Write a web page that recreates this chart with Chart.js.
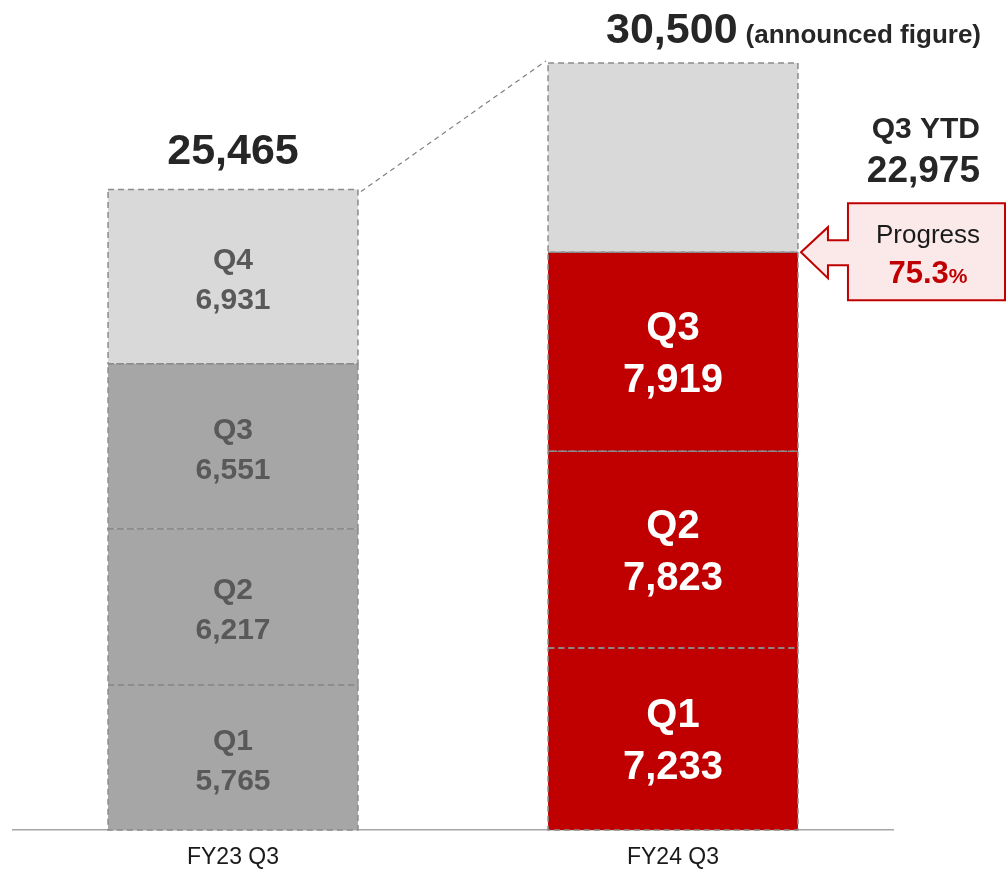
<!DOCTYPE html>
<html>
<head>
<meta charset="utf-8">
<script src="https://cdn.jsdelivr.net/npm/chart.js@4"></script>
<style>
  html, body { margin: 0; padding: 0; background: #fff; }
  #wrap { width: 1008px; height: 872px; }
</style>
</head>
<body>
<div id="wrap"><canvas id="salesChart" width="1008" height="872"></canvas></div>
<script>
// === DATA ===
const categories = ["FY23 Q3", "FY24 Q3"];
const quarters = ["Q1", "Q2", "Q3", "Q4"];
const q1Values = [5765, 7233];
const q2Values = [6217, 7823];
const q3Values = [6551, 7919];
const q4Values = [6931, 7525]; // FY24: remaining to announced figure
const barTotals = [25465, 30500];
const ytdTotal = 22975;
const progressPct = 75.3;

// === STYLE ===
const FONT = "Liberation Sans, Arimo, Arial, sans-serif";
const pastColors = ["#a6a6a6", "#a6a6a6", "#a6a6a6", "#d9d9d9"];
const currColors = ["#c00000", "#c00000", "#c00000", "#d9d9d9"];
const seriesValues = [q1Values, q2Values, q3Values, q4Values];

const fmt = (v) => v.toLocaleString("en-US");

const datasets = quarters.map((q, i) => ({
  label: q,
  data: seriesValues[i],
  backgroundColor: [pastColors[i], currColors[i]],
  borderWidth: 0,
  barPercentage: 0.568,
  categoryPercentage: 1,
}));

// === OVERLAY: dashed outlines, labels, callout ===
const overlay = {
  id: "overlay",
  afterDatasetsDraw(chart) {
    const ctx = chart.ctx;
    const metas = chart.data.datasets.map((d, i) => chart.getDatasetMeta(i));

    // dashed segment outlines
    ctx.save();
    ctx.strokeStyle = "#8c8c8c";
    ctx.lineWidth = 1.5;
    ctx.setLineDash([6, 4]);
    metas.forEach((m) => {
      m.data.forEach((el) => {
        const l = el.x - el.width / 2;
        ctx.strokeRect(l, el.y, el.width, el.base - el.y);
      });
    });
    ctx.restore();

    // connector between bar tops
    const topL = metas[3].data[0];
    const topR = metas[3].data[1];
    ctx.save();
    ctx.strokeStyle = "#808080";
    ctx.lineWidth = 1.2;
    ctx.setLineDash([5, 4]);
    ctx.beginPath();
    ctx.moveTo(topL.x + topL.width / 2 + 3, topL.y + 2);
    ctx.lineTo(topR.x - topR.width / 2 - 2, topR.y - 2);
    ctx.stroke();
    ctx.restore();

    // segment labels
    ctx.save();
    ctx.textAlign = "center";
    ctx.textBaseline = "middle";
    metas.forEach((m, i) => {
      m.data.forEach((el, j) => {
        if (j === 1 && i === 3) return;
        const c = (el.y + el.base) / 2;
        if (j === 0) {
          ctx.fillStyle = "#595959";
          ctx.font = "bold 30px " + FONT;
          ctx.fillText(quarters[i], el.x, c - 16);
          ctx.fillText(fmt(seriesValues[i][j]), el.x, c + 24);
        } else {
          ctx.fillStyle = "#ffffff";
          ctx.font = "bold 40px " + FONT;
          ctx.fillText(quarters[i], el.x, c - 23);
          ctx.fillText(fmt(seriesValues[i][j]), el.x, c + 29);
        }
      });
    });

    // totals
    ctx.fillStyle = "#262626";
    ctx.font = "bold 43px " + FONT;
    ctx.fillText(fmt(barTotals[0]), topL.x, topL.y - 37);

    ctx.textAlign = "left";
    ctx.textBaseline = "alphabetic";
    const rLeft = topR.x - topR.width / 2;
    ctx.font = "bold 43px " + FONT;
    ctx.fillText(fmt(barTotals[1]), rLeft + 58, 43);
    const w = ctx.measureText(fmt(barTotals[1])).width;
    ctx.font = "bold 26px " + FONT;
    ctx.fillText("(announced figure)", rLeft + 58 + w + 8, 43);

    // YTD
    ctx.textAlign = "right";
    ctx.textBaseline = "middle";
    ctx.font = "bold 30px " + FONT;
    ctx.fillText("Q3 YTD", 980, 130);
    ctx.font = "bold 37px " + FONT;
    ctx.fillText(fmt(ytdTotal), 980, 172);

    // callout arrow
    const rRight = topR.x + topR.width / 2;
    const ty = metas[2].data[1].y;
    ctx.beginPath();
    ctx.moveTo(rRight + 3, ty);
    ctx.lineTo(rRight + 30, ty - 25);
    ctx.lineTo(rRight + 30, ty - 12);
    ctx.lineTo(rRight + 50, ty - 12);
    ctx.lineTo(rRight + 50, ty - 49);
    ctx.lineTo(1005, ty - 49);
    ctx.lineTo(1005, ty + 48);
    ctx.lineTo(rRight + 50, ty + 48);
    ctx.lineTo(rRight + 50, ty + 13);
    ctx.lineTo(rRight + 30, ty + 13);
    ctx.lineTo(rRight + 30, ty + 26);
    ctx.closePath();
    ctx.fillStyle = "#fbe9e9";
    ctx.fill();
    ctx.strokeStyle = "#c00000";
    ctx.lineWidth = 2;
    ctx.stroke();

    ctx.textAlign = "center";
    ctx.fillStyle = "#1a1a1a";
    ctx.font = "26px " + FONT;
    ctx.fillText("Progress", 928, ty - 16);
    ctx.fillStyle = "#c00000";
    ctx.font = "bold 31px " + FONT;
    const pTxt = progressPct.toFixed(1);
    const pw = ctx.measureText(pTxt).width;
    ctx.font = "bold 21px " + FONT;
    const sw = ctx.measureText("%").width;
    const startX = 928 - (pw + sw) / 2;
    ctx.textAlign = "left";
    ctx.textBaseline = "alphabetic";
    ctx.font = "bold 31px " + FONT;
    ctx.fillText(pTxt, startX, ty + 31);
    ctx.font = "bold 21px " + FONT;
    ctx.fillText("%", startX + pw, ty + 31);
    ctx.restore();
  },
};

// === CHART ===
const ctx = document.getElementById("salesChart").getContext("2d");
new Chart(ctx, {
  type: "bar",
  data: { labels: categories, datasets },
  options: {
    responsive: false,
    animation: false,
    layout: { padding: { left: 13, right: 115, top: 0, bottom: 0 } },
    plugins: { legend: { display: false }, tooltip: { enabled: false } },
    scales: {
      x: {
        stacked: true,
        grid: { display: false, drawTicks: false },
        border: { display: true, color: "#a6a6a6", width: 1.5 },
        ticks: { color: "#1a1a1a", padding: 14, font: { family: FONT, size: 23 } },
        afterFit(scale) { scale.height = 42; },
      },
      y: {
        stacked: true,
        display: false,
        min: 0,
        max: 33000,
      },
    },
  },
  plugins: [overlay],
});
</script>
</body>
</html>
